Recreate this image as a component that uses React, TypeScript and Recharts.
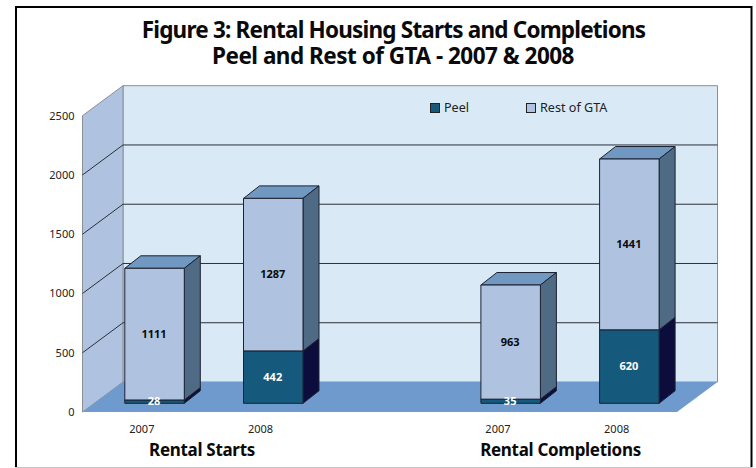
import React from 'react';
import { Bar, BarChart, CartesianGrid, LabelList, Legend, XAxis, YAxis } from 'recharts';

const categories = ['2007', '2008', '', '2007', '2008'];
const peelValues = [28, 442, null, 35, 620];
const restValues = [1111, 1287, null, 963, 1441];
const yTicks = [0, 500, 1000, 1500, 2000, 2500];
const titleLines = ['Figure 3: Rental Housing Starts and Completions', 'Peel and Rest of GTA - 2007 & 2008'];
const groupLabels = ['Rental Starts', 'Rental Completions'];

const data = categories.map((name, i) => ({ name, peel: peelValues[i], rest: restValues[i] }));

const FONT = '"Noto Sans", sans-serif';
const WIDTH = 756;
const HEIGHT = 468;

// plot front plane, in page pixels
const LEFT = 82.5;
const RIGHT = 677;
const TOP = 115.7;
const BOTTOM = 412;
// depth of the box and of each bar
const DX = 40.5;
const DY = 30;
const BAR_DX = 16;
const BAR_DY = 12.5;
// bars stand a little way back on the floor
const BAR_SHIFT_X = 12.3;
const BAR_SHIFT_Y = 8.7;

const LINE = '#1c2230';

// frame and box walls sit in their own svg behind the chart so the grid lands on top
function Backdrop () {
  return (
    <svg height={HEIGHT} style={{ left: 0, position: 'absolute', top: 0 }} width={WIDTH}>
      <rect fill='#000' height={2} width={737} x={15} y={6} />
      <rect fill='#000' height={461} width={2} x={15} y={6} />
      <rect fill='#000' height={461} width={2} x={750.5} y={6} />
      <rect fill='#c4c4c4' height={1} width={737} x={15} y={467} />
      <polygon fill='#d9eaf6' points={`${LEFT + DX},${TOP - DY} ${RIGHT + DX},${TOP - DY} ${RIGHT + DX},${BOTTOM - DY} ${LEFT + DX},${BOTTOM - DY}`} stroke='#8a8f96' strokeWidth={1} />
      <polygon fill='#afc3e0' points={`${LEFT},${TOP} ${LEFT + DX},${TOP - DY} ${LEFT + DX},${BOTTOM - DY} ${LEFT},${BOTTOM}`} stroke='#8a8f96' strokeWidth={1} />
      <polygon fill='#6f9acd' points={`${LEFT},${BOTTOM} ${RIGHT},${BOTTOM} ${RIGHT + DX},${BOTTOM - DY} ${LEFT + DX},${BOTTOM - DY}`} />
    </svg>
  );
}

function GridLine (props: any) {
  const { x1, y1, index } = props;

  if (y1 > BOTTOM - 1 || y1 < TOP + 1) {
    return <g key={index} />;
  }

  return (
    <g key={`grid-${y1}`}>
      <line stroke='#2b3038' strokeWidth={1} x1={x1 + DX} x2={RIGHT + DX} y1={y1 - DY} y2={y1 - DY} />
      <line stroke='#2b3038' strokeWidth={1} x1={x1} x2={x1 + DX} y1={y1} y2={y1 - DY} />
    </g>
  );
}

function makeBox (side: string, top: string) {
  return function Box (props: any) {
    const { x, y, width, height, fill } = props;

    if (!height) {
      return <g />;
    }

    const bx = x + BAR_SHIFT_X;
    const by = y - BAR_SHIFT_Y;

    return (
      <g stroke={LINE} strokeLinejoin='round' strokeWidth={1}>
        <polygon fill={top} points={`${bx},${by} ${bx + width},${by} ${bx + width + BAR_DX},${by - BAR_DY} ${bx + BAR_DX},${by - BAR_DY}`} />
        <polygon fill={side} points={`${bx + width},${by} ${bx + width + BAR_DX},${by - BAR_DY} ${bx + width + BAR_DX},${by + height - BAR_DY} ${bx + width},${by + height}`} />
        <rect fill={fill} height={height} width={width} x={bx} y={by} />
      </g>
    );
  };
}

function makeValueLabel (color: string) {
  return function ValueLabel (props: any) {
    const { x, y, width, height, value } = props;

    if (value == null) {
      return null;
    }

    return (
      <text
        dominantBaseline='central'
        fill={color}
        fontFamily={FONT}
        fontSize={11}
        fontWeight={700}
        textAnchor='middle'
        x={x + width / 2 + BAR_SHIFT_X - 0.5}
        y={y + height / 2 - BAR_SHIFT_Y - 0.7}
      >
        {value}
      </text>
    );
  };
}

function LegendContent ({ payload }: any) {
  return (
    <div style={{ color: '#222', display: 'flex', fontFamily: FONT, fontSize: 12.6, lineHeight: '14px' }}>
      {(payload || []).map((item: any, i: number) => (
        <div key={item.value} style={{ alignItems: 'center', display: 'flex', width: i === 0 ? 96 : 110 }}>
          <span style={{ background: item.color, border: '1px solid #222', boxSizing: 'border-box', display: 'inline-block', height: 10, marginRight: 4, width: 10 }} />
          {item.value}
        </div>
      ))}
    </div>
  );
}

function App () {
  return (
    <div style={{ height: HEIGHT, left: 0, position: 'absolute', top: 0, width: WIDTH }}>
      <Backdrop />
      <BarChart
        data={data}
        height={HEIGHT}
        margin={{ bottom: HEIGHT - BOTTOM - 30, left: LEFT - 60, right: WIDTH - RIGHT + 1, top: TOP }}
        width={WIDTH}
      >
        <text fill='#0a0a0a' fontFamily={FONT} fontSize={22.5} fontWeight={700} textAnchor='middle'>
          <tspan letterSpacing={-0.8} x={393.5} y={38}>{titleLines[0]}</tspan>
          <tspan letterSpacing={-0.5} x={393} y={64}>{titleLines[1]}</tspan>
        </text>
        <CartesianGrid horizontal={GridLine} vertical={false} />
        <XAxis axisLine={false} dataKey='name' height={30} tick={{ fill: '#222', fontFamily: FONT, fontSize: 11 }} tickLine={false} tickMargin={7} />
        <YAxis axisLine={false} domain={[0, 2500]} tick={{ fill: '#222', fontFamily: FONT, fontSize: 11 }} tickLine={false} tickMargin={2} ticks={yTicks} width={60} />
        <Legend
          align='center'
          content={LegendContent}
          layout='horizontal'
          verticalAlign='middle'
          wrapperStyle={{ left: 430, top: 101, width: 220 }}
        />
        <Bar barSize={59.5} dataKey='peel' fill='#155a7d' isAnimationActive={false} name='Peel' shape={makeBox('#0c0d3d', '#0c0d3d')} stackId='a'>
          <LabelList content={makeValueLabel('#ffffff')} dataKey='peel' />
        </Bar>
        <Bar barSize={59.5} dataKey='rest' fill='#afc3e0' isAnimationActive={false} name='Rest of GTA' shape={makeBox('#4f6a85', '#7098c0')} stackId='a'>
          <LabelList content={makeValueLabel('#0a0a0a')} dataKey='rest' />
        </Bar>
        <text fill='#0a0a0a' fontFamily={FONT} fontSize={17} fontWeight={700} letterSpacing={-0.3} textAnchor='middle' x={202} y={456}>{groupLabels[0]}</text>
        <text fill='#0a0a0a' fontFamily={FONT} fontSize={17} fontWeight={700} letterSpacing={-0.3} textAnchor='middle' x={560.5} y={456}>{groupLabels[1]}</text>
      </BarChart>
    </div>
  );
}

export default App;
